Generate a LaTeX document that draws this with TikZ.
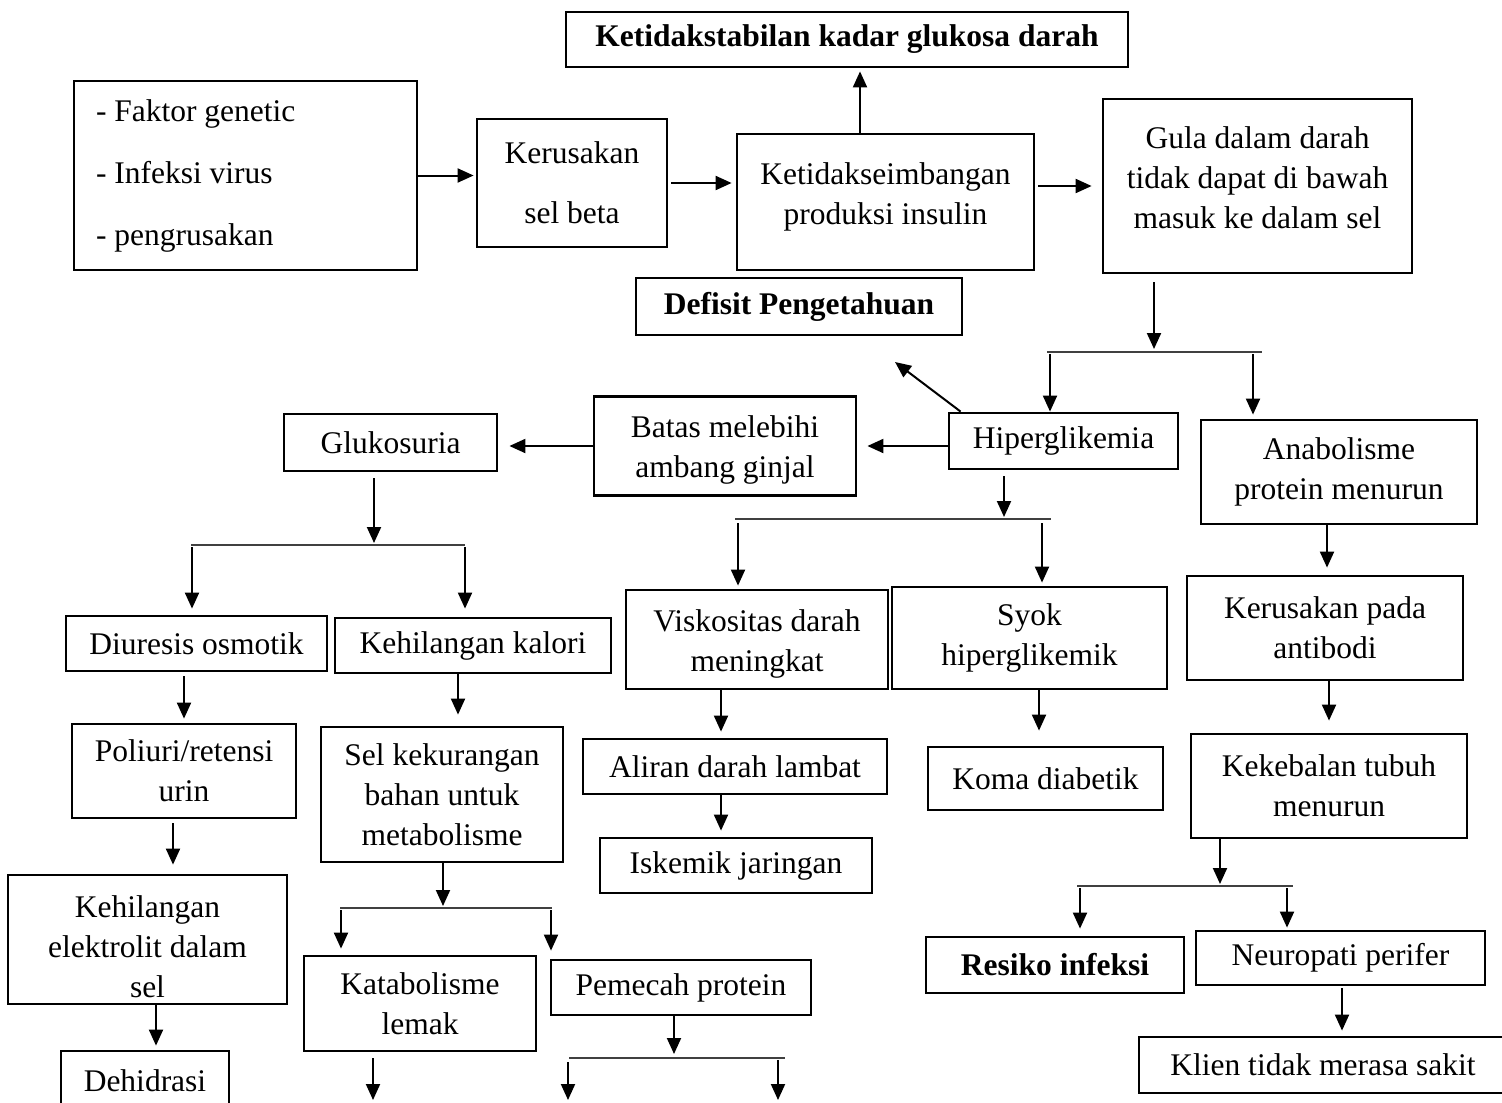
\documentclass[tikz,border=0pt]{standalone}
\usepackage{fontspec}
\setmainfont{Liberation Serif}
\usetikzlibrary{arrows.meta}

\begin{document}
\begin{tikzpicture}[x=0.5pt, y=-0.5pt,
  every node/.style={font=\fontsize{15.75pt}{20pt}\selectfont},
  box/.style={draw, line width=1.4pt, align=center, inner sep=0pt},
  bold/.style={font=\fontsize{15.75pt}{20pt}\selectfont\bfseries},
  bar/.style={line width=0.75pt, black!75},
  >={Triangle[length=8pt,width=7pt]}]
  \useasboundingbox (0,0) rectangle (1502,1102);
  \clip (0,0) rectangle (1502,1102);

  \node[box, bold, minimum width=281pt, minimum height=27.5pt] (stab) at (847,39.5) {Ketidakstabilan kadar glukosa darah};
  \node[box, align=flush left, text width=149.5pt, inner xsep=11pt, minimum height=94.5pt] (faktor) at (245.5,175.5)
    {- Faktor genetic\\[11pt] - Infeksi virus\\[11pt] - pengrusakan};
  \node[box, minimum width=95pt, minimum height=64pt] (selbeta) at (572,183) {Kerusakan\\[10pt] sel beta};
  \node[box, minimum width=148.5pt, minimum height=68pt,
    label={[align=center, yshift=2.5pt]center:{Ketidakseimbangan\\ produksi insulin}}] (insulin) at (885.5,202) {};
  \node[box, minimum width=154.5pt, minimum height=87pt,
    label={[align=center, yshift=4pt]center:{Gula dalam darah\\ tidak dapat di bawah\\ masuk ke dalam sel}}] (gula) at (1257.5,186) {};
  \node[box, bold, minimum width=163pt, minimum height=28.5pt] (defisit) at (799,306.5) {Defisit Pengetahuan};
  \node[box, minimum width=114.5pt, minimum height=28pt] (hiper) at (1063.5,441) {Hiperglikemia};
  \node[box, minimum width=131pt, minimum height=49.5pt,
    label={[align=center, yshift=-2pt]center:{Batas melebihi\\ ambang ginjal}}] (batas) at (725,446) {};
  \node[box, minimum width=106.5pt, minimum height=28.5pt] (gluko) at (390.5,442.5) {Glukosuria};
  \node[box, minimum width=138pt, minimum height=52pt] (anab) at (1339,472) {Anabolisme\\ protein menurun};
  \node[box, minimum width=130.5pt, minimum height=27.5pt] (diuresis) at (196.5,643.5) {Diuresis osmotik};
  \node[box, minimum width=138pt, minimum height=27.5pt] (kalori) at (473,645.5) {Kehilangan kalori};
  \node[box, minimum width=131pt, minimum height=49.5pt,
    label={[align=center, yshift=-2pt]center:{Viskositas darah\\ meningkat}}] (visko) at (757,639.5) {};
  \node[box, minimum width=137.5pt, minimum height=51pt] (syok) at (1029.5,638) {Syok\\ hiperglikemik};
  \node[box, minimum width=138pt, minimum height=52pt] (antibodi) at (1325,628) {Kerusakan pada\\ antibodi};
  \node[box, minimum width=112pt, minimum height=47pt] (poliuri) at (184,771) {Poliuri/retensi\\ urin};
  \node[box, minimum width=121pt, minimum height=67.5pt] (selkurang) at (442,794.5) {Sel kekurangan\\ bahan untuk\\ metabolisme};
  \node[box, minimum width=152pt, minimum height=27.5pt] (aliran) at (735,766.5) {Aliran darah lambat};
  \node[box, minimum width=117.5pt, minimum height=31.5pt] (koma) at (1045.5,778.5) {Koma diabetik};
  \node[box, minimum width=138pt, minimum height=52pt] (kekebalan) at (1329,786) {Kekebalan tubuh\\ menurun};
  \node[box, minimum width=136pt, minimum height=27.5pt] (iskemik) at (736,865.5) {Iskemik jaringan};
  \node[box, minimum width=139.5pt, minimum height=64.5pt,
    label={[align=center, yshift=-3.5pt]center:{Kehilangan\\ elektrolit dalam\\ sel}}] (elektrolit) at (147.5,939.5) {};
  \node[box, minimum width=116pt, minimum height=47.5pt] (katabol) at (420,1003.5) {Katabolisme\\ lemak};
  \node[box, minimum width=130pt, minimum height=27.5pt] (pemecah) at (681,987.5) {Pemecah protein};
  \node[box, bold, minimum width=129pt, minimum height=28pt] (resiko) at (1055,965) {Resiko infeksi};
  \node[box, minimum width=144.5pt, minimum height=27pt] (neuro) at (1340.5,958) {Neuropati perifer};
  \node[box, minimum width=84pt, minimum height=30pt] (dehidrasi) at (145,1081) {Dehidrasi};
  \node[box, minimum width=184pt, minimum height=28pt] (klien) at (1323,1065) {Klien tidak merasa sakit};

  \foreach \n/\l/\r/\y/\i/\a/\b in {1/1047/1262/352/1154/1050/1253, 2/191/465/545/374/192/465,
      3/735/1051/519/1004/738/1042, 4/1077/1293/886/1220/1080/1287,
      5/340/552/908/443/341/551, 6/569/785/1058/674/568/778} {
    \coordinate (bar\n-l) at (\l,\y);
    \coordinate (bar\n-r) at (\r,\y);
    \coordinate (bar\n-i) at (\i,\y);
    \coordinate (bar\n-a) at (\a,\y);
    \coordinate (bar\n-b) at (\b,\y);
    \draw[bar] (bar\n-l) -- (bar\n-r);
  }
  \foreach \n/\x in {4/860, 11/1327, 12/1329, 14/1342, 15/184, 16/458, 17/173, 18/156, 19/721, 21/1039, 24/373}
    \coordinate (k\n) at (\x,0);
  \coordinate (tip) at (895,362);
  \coordinate (low) at (0,1100);

  \path[->, line width=1pt]
  (faktor.east) edge[shorten >=1pt] (faktor.east -| selbeta.west)
  (selbeta.east) edge[shorten <=1.5pt, shorten >=2pt] (selbeta.east -| insulin.west)
  (insulin.east |- gula.west) edge[shorten <=1.5pt, shorten >=5pt] (gula.west)
  (insulin.north -| k4) edge[shorten >=1.5pt] (k4 |- stab.south)
  (gula.south -| bar1-i) edge[shorten <=4pt, shorten >=1.5pt] (bar1-i)
  (bar1-a) edge[shorten <=1pt] (bar1-a |- hiper.north)
  (bar1-b) edge[shorten <=1pt, shorten >=2pt] (bar1-b |- anab.north)
  ([xshift=6.5pt]hiper.north west) edge (tip)
  (hiper.west |- batas.east) edge[shorten >=5pt] (batas.east)
  (batas.west) edge[shorten >=5.5pt] (batas.west -| gluko.east)
  (gluko.south -| bar2-i) edge[shorten <=3pt, shorten >=1pt] (bar2-i)
  (bar2-a) edge[shorten <=1pt, shorten >=3pt] (bar2-a |- diuresis.north)
  (bar2-b) edge[shorten <=1pt, shorten >=4pt] (bar2-b |- kalori.north)
  (hiper.south -| bar3-i) edge[shorten <=3pt, shorten >=1pt] (bar3-i)
  (bar3-a) edge[shorten <=2pt, shorten >=1.5pt] (bar3-a |- visko.north)
  (bar3-b) edge[shorten <=2pt, shorten >=1.5pt] (bar3-b |- syok.north)
  (anab.south -| k11) edge[shorten >=3.5pt] (k11 |- antibodi.north)
  (antibodi.south -| k12) edge[shorten >=6pt] (k12 |- kekebalan.north)
  (kekebalan.south -| bar4-i) edge[shorten >=1pt] (bar4-i)
  (bar4-a) edge[shorten <=1pt, shorten >=3.5pt] (bar4-a |- resiko.north)
  (bar4-b) edge[shorten <=1pt, shorten >=1pt] (bar4-b |- neuro.north)
  (neuro.south -| k14) edge[shorten <=1pt, shorten >=2.5pt] (k14 |- klien.north)
  (diuresis.south -| k15) edge[shorten <=2pt, shorten >=2pt] (k15 |- poliuri.north)
  (kalori.south -| k16) edge[shorten >=5.5pt] (k16 |- selkurang.north)
  (poliuri.south -| k17) edge[shorten <=2pt, shorten >=4.5pt] (k17 |- elektrolit.north)
  (elektrolit.south -| k18) edge[shorten >=2pt] (k18 |- dehidrasi.north)
  (visko.south -| k19) edge[shorten >=3pt] (k19 |- aliran.north)
  (aliran.south -| k19) edge[shorten >=3pt] (k19 |- iskemik.north)
  (syok.south -| k21) edge[shorten >=7.5pt] (k21 |- koma.north)
  (selkurang.south -| bar5-i) edge[shorten >=1pt] (bar5-i)
  (bar5-a) edge[shorten <=1pt, shorten >=3pt] (bar5-a |- katabol.north)
  (bar5-b) edge[shorten <=1pt, shorten >=4pt] (bar5-b |- pemecah.north)
  (pemecah.south -| bar6-i) edge[shorten >=2pt] (bar6-i)
  (bar6-a) edge[shorten <=2pt] (bar6-a |- low)
  (bar6-b) edge[shorten <=1pt] (bar6-b |- low)
  (katabol.south -| k24) edge[shorten <=3pt] (k24 |- low)
;
\end{tikzpicture}
\end{document}
